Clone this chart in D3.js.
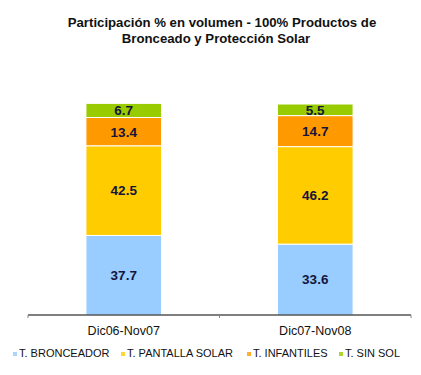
<!DOCTYPE html>
<html>
<head>
<meta charset="utf-8">
<script src="https://cdn.jsdelivr.net/npm/d3@7"></script>
<style>
  body { margin: 0; background: #fff; }
  svg { display: block; font-family: "Liberation Sans", Arial, sans-serif; }
</style>
</head>
<body>
<div id="chart"></div>
<script>
"use strict";

/* ── Data ── */
const periods = ["Dic06-Nov07", "Dic07-Nov08"];
const seriesNames = ["T. BRONCEADOR", "T. PANTALLA SOLAR", "T. INFANTILES", "T. SIN SOL"];
const bronceador = [37.7, 33.6];
const pantalla   = [42.5, 46.2];
const infantiles = [13.4, 14.7];
const sinSol     = [6.7, 5.5];
const titleLines = ["Participación % en volumen - 100% Productos de", "Bronceado y Protección Solar"];

const colours = ["#99ccff", "#ffcc00", "#ff9900", "#99cc00"];

/* ── Dimensions ── */
const W = 421, H = 375;
const x0 = 28, x1 = 411, yBase = 315, yTop = 104;

const svg = d3.select("#chart").append("svg")
  .attr("width", W).attr("height", H);

/* ── Table for stack ── */
const rows = periods.map((p, i) => ({
  period: p,
  [seriesNames[0]]: bronceador[i],
  [seriesNames[1]]: pantalla[i],
  [seriesNames[2]]: infantiles[i],
  [seriesNames[3]]: sinSol[i]
}));
const stacked = d3.stack().keys(seriesNames)(rows);

/* ── Scales ── */
const x = d3.scaleBand().domain(periods).range([x0, x1]).padding(0);
const y = d3.scaleLinear().domain([0, 100]).range([yBase, yTop]);
const barW = x.bandwidth() * 0.395;
const colour = d3.scaleOrdinal().domain(seriesNames).range(colours);

/* ── Title ── */
svg.append("text")
  .attr("x", 221).attr("y", 27)
  .attr("text-anchor", "middle")
  .attr("font-size", "13.2px")
  .attr("font-weight", "700")
  .attr("fill", "#111")
  .selectAll("tspan")
  .data(titleLines)
  .join("tspan")
  .attr("x", (d, i) => i === 0 ? 222 : 216)
  .attr("dy", (d, i) => i === 0 ? 0 : 16)
  .text(d => d);

/* ── Bars ── */
const layer = svg.selectAll("g.layer")
  .data(stacked)
  .join("g")
  .attr("class", "layer")
  .attr("fill", d => colour(d.key));

layer.selectAll("rect")
  .data(d => d)
  .join("rect")
  .attr("x", d => x(d.data.period) + (x.bandwidth() - barW) / 2)
  .attr("width", barW)
  .attr("y", d => y(d[1]))
  .attr("height", d => y(d[0]) - y(d[1]))
  .attr("stroke", "#fff")
  .attr("stroke-width", 1);

/* ── Value labels ── */
layer.selectAll("text")
  .data(d => d.map(v => ({ v, val: v.data[d.key] })))
  .join("text")
  .attr("x", d => x(d.v.data.period) + x.bandwidth() / 2)
  .attr("y", d => (y(d.v[0]) + y(d.v[1])) / 2)
  .attr("dy", "0.36em")
  .attr("text-anchor", "middle")
  .attr("font-size", "13.5px")
  .attr("font-weight", "700")
  .attr("fill", "#14143c")
  .text(d => d.val.toFixed(1));

/* ── X axis ── */
const axis = svg.append("g")
  .attr("transform", `translate(0,${yBase})`);

axis.append("line")
  .attr("x1", x0).attr("x2", x1)
  .attr("stroke", "#000").attr("stroke-width", 1);

axis.selectAll("line.tick")
  .data([x0, x0 + x.bandwidth(), x1])
  .join("line")
  .attr("class", "tick")
  .attr("x1", d => d).attr("x2", d => d)
  .attr("y1", 0).attr("y2", 3)
  .attr("stroke", "#888");

axis.selectAll("text")
  .data(periods)
  .join("text")
  .attr("x", d => x(d) + x.bandwidth() / 2)
  .attr("y", 20)
  .attr("text-anchor", "middle")
  .attr("font-size", "12.5px")
  .attr("fill", "#111")
  .text(d => d);

/* ── Legend ── */
const legendX = [13, 121, 247, 339];
const legend = svg.selectAll("g.legend")
  .data(seriesNames)
  .join("g")
  .attr("class", "legend")
  .attr("transform", (d, i) => `translate(${legendX[i]},357)`);

legend.append("rect")
  .attr("x", 0).attr("y", -5)
  .attr("width", 4).attr("height", 4)
  .attr("fill", d => colour(d))
  .attr("opacity", 0.8);

legend.append("text")
  .attr("x", 6)
  .attr("font-size", "11px")
  .attr("fill", "#111")
  .text(d => d);
</script>
</body>
</html>
